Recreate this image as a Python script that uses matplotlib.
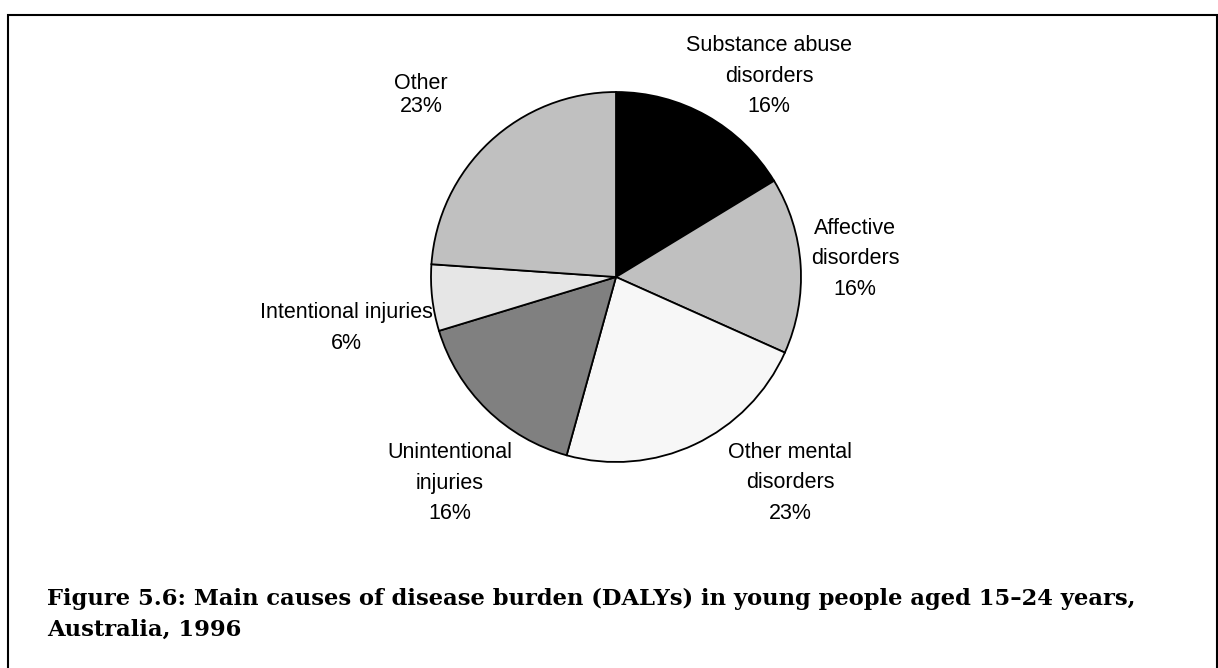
import matplotlib.pyplot as plt
from matplotlib.patches import Rectangle

# slice data (clockwise from 12 o'clock)
causes = ['Substance abuse\ndisorders', 'Affective\ndisorders', 'Other mental\ndisorders',
          'Unintentional\ninjuries', 'Intentional injuries', 'Other']
shares = [16.3, 15.4, 22.6, 16.0, 5.8, 23.9]
pct_labels = ['16%', '16%', '23%', '16%', '6%', '23%']
colours = ['#000000', '#c0c0c0', '#f7f7f7', '#808080', '#e6e6e6', '#c0c0c0']

W, H = 1218, 668
fig = plt.figure(figsize=(W / 100, H / 100), dpi=100)

# frame round the figure (bottom edge runs off the page)
fig.patches.append(Rectangle((8 / W, -0.1), 1209 / W, 1.1 - 15 / H, transform=fig.transFigure,
                             fill=False, edgecolor='black', linewidth=1.5))

# pie: centre (616, 277), radius 185 px
cx, cy, r = 616, 277, 185
ax = fig.add_axes([(cx - r) / W, 1 - (cy + r) / H, 2 * r / W, 2 * r / H])
ax.pie(shares, colors=colours, startangle=90, counterclock=False,
       wedgeprops=dict(edgecolor='black', linewidth=1.3))
ax.set_xlim(-1, 1)
ax.set_ylim(-1, 1)
ax.set_aspect('equal')
ax.axis('off')

# label positions in pixels (centre of text block)
label_pos = [(769, 76), (855, 259), (790, 483), (450, 483), (346, 328), (421, 95)]
for name, pct, (x, y) in zip(causes, pct_labels, label_pos):
    ls = 1.17 if name == 'Other' else 1.62
    fig.text(x / W, 1 - y / H, name + '\n' + pct, ha='center', va='center',
             family='Liberation Sans', fontsize=15.5, linespacing=ls)

fig.text(47 / W, 1 - 588 / H,
         'Figure 5.6: Main causes of disease burden (DALYs) in young people aged 15\u201324 years,\n'
         'Australia, 1996',
         ha='left', va='top', family='DejaVu Serif', fontweight='bold', fontsize=16.3,
         linespacing=1.5)

fig.savefig('out.png', dpi=100)
